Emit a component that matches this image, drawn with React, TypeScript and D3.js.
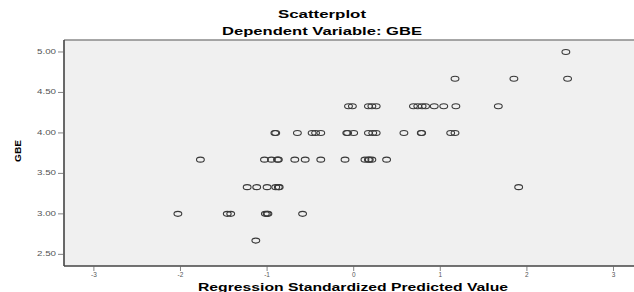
import React from "react";
import * as d3 from "d3";

// GBE levels (y) and the standardized predicted values (x) found at each level
const gbeLevels = [5.0, 4.67, 4.33, 4.0, 3.67, 3.33, 3.0, 2.67];
const predAt500 = [2.45];
const predAt467 = [1.17, 1.85, 2.47];
const predAt433 = [-0.06, -0.015, 0.17, 0.21, 0.26, 0.69, 0.74, 0.79, 0.83, 0.93, 1.04, 1.18, 1.67];
const predAt400 = [-0.91, -0.9, -0.65, -0.48, -0.44, -0.38, -0.08, -0.07, 0.0, 0.17, 0.22, 0.26, 0.58, 0.78, 0.785, 1.12, 1.17];
const predAt367 = [-1.77, -1.03, -0.95, -0.88, -0.87, -0.68, -0.56, -0.38, -0.1, 0.13, 0.17, 0.18, 0.21, 0.38];
const predAt333 = [-1.23, -1.12, -1.0, -0.9, -0.87, -0.86, 1.905];
const predAt300 = [-2.03, -1.46, -1.42, -1.02, -1.0, -0.99, -0.59];
const predAt267 = [-1.13];
const predByLevel = [predAt500, predAt467, predAt433, predAt400, predAt367, predAt333, predAt300, predAt267];

const xTicks = [-3, -2, -1, 0, 1, 2, 3];
const yTicks = [2.5, 3.0, 3.5, 4.0, 4.5, 5.0];

const title = "Scatterplot";
const subtitle = "Dependent Variable: GBE";
const xTitle = "Regression Standardized Predicted Value";
const yTitle = "GBE";

const W = 634;
const H = 292;
const plot = { left: 64, right: 640, top: 40, bottom: 266 };

export default function App() {
  const x = d3.scaleLinear().domain([-3.345, 3.306]).range([plot.left, plot.right]);
  const y = d3.scaleLinear().domain([2.356, 5.148]).range([plot.bottom, plot.top]);

  const points = predByLevel.flatMap((preds, i) =>
    preds.map(p => ({ px: p, gbe: gbeLevels[i] }))
  );

  const font = "'Liberation Sans', Arial, sans-serif";

  return (
    <svg
      width={W}
      height={H}
      style={{ position: "absolute", left: 0, top: 0, background: "#fff" }}
      fontFamily={font}
    >
      <rect
        x={plot.left}
        y={plot.top}
        width={plot.right - plot.left}
        height={plot.bottom - plot.top}
        fill="#f0f0f0"
      />
      {/* frame */}
      <line x1={plot.left} x2={plot.right} y1={plot.top} y2={plot.top} stroke="#8a8a8a" strokeWidth={1.6} />
      <line x1={plot.left} x2={plot.left} y1={plot.top} y2={plot.bottom} stroke="#444" strokeWidth={1.6} />
      <line x1={plot.left} x2={plot.right} y1={plot.bottom} y2={plot.bottom} stroke="#444" strokeWidth={1.6} />

      {/* y axis */}
      {yTicks.map(t => (
        <g key={t}>
          <line x1={plot.left - 6} x2={plot.left} y1={y(t)} y2={y(t)} stroke="#666" strokeWidth={0.8} />
          <text
            x={plot.left - 8}
            y={y(t) + 2}
            fontSize={6.5}
            fill="#555"
            textAnchor="end"
            textLength={19}
            lengthAdjust="spacingAndGlyphs"
          >
            {t.toFixed(2)}
          </text>
        </g>
      ))}

      {/* x axis */}
      {xTicks.map(t => (
        <g key={t}>
          <line x1={x(t)} x2={x(t)} y1={plot.bottom} y2={plot.bottom + 5} stroke="#666" strokeWidth={0.8} />
          <text x={x(t)} y={plot.bottom + 11} fontSize={6.5} fill="#555" textAnchor="middle">
            {t}
          </text>
        </g>
      ))}

      {/* points */}
      {points.map((d, i) => (
        <ellipse
          key={i}
          cx={x(d.px)}
          cy={y(d.gbe)}
          rx={3.9}
          ry={2.5}
          fill="none"
          stroke="#3a3a3a"
          strokeWidth={1.1}
        />
      ))}

      {/* titles */}
      <text x={322} y={17.5} fontSize={10} fontWeight="bold" textAnchor="middle" textLength={88} lengthAdjust="spacingAndGlyphs">
        {title}
      </text>
      <text x={322} y={35} fontSize={10} fontWeight="bold" textAnchor="middle" textLength={200} lengthAdjust="spacingAndGlyphs">
        {subtitle}
      </text>
      <text x={353} y={290.5} fontSize={11} fontWeight="bold" textAnchor="middle" textLength={310} lengthAdjust="spacingAndGlyphs">
        {xTitle}
      </text>
      <text
        transform={`translate(21, 151) rotate(-90)`}
        fontSize={9}
        fontWeight="bold"
        textAnchor="middle"
        textLength={22}
        lengthAdjust="spacingAndGlyphs"
      >
        {yTitle}
      </text>
    </svg>
  );
}
